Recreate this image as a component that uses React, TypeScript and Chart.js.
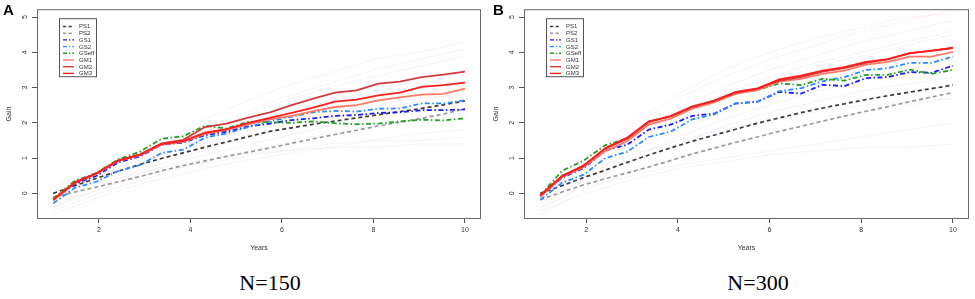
import React, { useEffect, useRef } from "react";
import { Chart, registerables } from "chart.js";

Chart.register(...registerables);

// ---------- data ----------
const years = [1, 1.474, 1.947, 2.421, 2.895, 3.368, 3.842, 4.316, 4.789, 5.263, 5.737, 6.211, 6.684, 7.158, 7.632, 8.105, 8.579, 9.053, 9.526, 10];
const faintYears = [1, 2, 3, 4, 5, 6, 7, 8, 9, 10];
const seriesNames = ["PS1", "PS2", "GS1", "GS2", "GSeff", "GM1", "GM2", "GM3"];
const xTickValues = [2, 4, 6, 8, 10];
const yTickValues = [0, 1, 2, 3, 4, 5];
const xTitle = "Years";
const yTitle = "Gain";

// Panel A (N=150)
const PS1_A = [0, 0.22, 0.43, 0.63, 0.82, 0.99, 1.15, 1.31, 1.46, 1.61, 1.76, 1.86, 1.96, 2.05, 2.14, 2.23, 2.32, 2.41, 2.51, 2.62];
const PS2_A = [-0.1, 0.04, 0.18, 0.33, 0.48, 0.64, 0.79, 0.92, 1.05, 1.17, 1.29, 1.42, 1.55, 1.67, 1.79, 1.91, 2.02, 2.13, 2.25, 2.4];
const GS1_A = [-0.18, 0.27, 0.5, 0.88, 1.05, 1.38, 1.44, 1.65, 1.75, 1.9, 1.98, 2.08, 2.13, 2.2, 2.22, 2.28, 2.3, 2.36, 2.36, 2.38];
const GS2_A = [-0.28, 0.16, 0.33, 0.64, 0.8, 1.15, 1.24, 1.58, 1.7, 1.88, 2.04, 2.18, 2.3, 2.34, 2.32, 2.4, 2.41, 2.55, 2.55, 2.64];
const GSeff_A = [-0.15, 0.36, 0.58, 0.97, 1.18, 1.55, 1.62, 1.92, 1.84, 2.03, 2.02, 2.0, 2.04, 1.99, 1.96, 1.98, 2.04, 2.09, 2.07, 2.13];
const GM1_A = [-0.2, 0.3, 0.55, 0.92, 1.08, 1.38, 1.46, 1.68, 1.8, 1.96, 2.1, 2.2, 2.33, 2.45, 2.5, 2.64, 2.72, 2.8, 2.82, 2.97];
const GM2_A = [-0.17, 0.32, 0.57, 0.94, 1.1, 1.42, 1.52, 1.88, 1.98, 2.15, 2.3, 2.5, 2.69, 2.86, 2.92, 3.11, 3.17, 3.3, 3.37, 3.45];
const GM3_A = [-0.17, 0.3, 0.57, 0.93, 1.1, 1.4, 1.48, 1.72, 1.82, 2.0, 2.14, 2.28, 2.43, 2.6, 2.66, 2.78, 2.86, 3.02, 3.07, 3.14];

// Panel B (N=300)
const PS1_B = [0, 0.22, 0.45, 0.66, 0.88, 1.09, 1.29, 1.48, 1.65, 1.82, 1.99, 2.14, 2.29, 2.42, 2.54, 2.66, 2.77, 2.87, 2.97, 3.07];
const PS2_B = [-0.18, 0.04, 0.24, 0.42, 0.58, 0.75, 0.93, 1.12, 1.28, 1.45, 1.6, 1.76, 1.9, 2.05, 2.19, 2.33, 2.46, 2.6, 2.73, 2.86];
const GS1_B = [-0.08, 0.44, 0.72, 1.22, 1.38, 1.81, 1.95, 2.2, 2.26, 2.55, 2.6, 2.88, 2.83, 3.08, 3.04, 3.27, 3.3, 3.44, 3.42, 3.62];
const GS2_B = [-0.18, 0.3, 0.53, 1.0, 1.18, 1.6, 1.75, 2.1, 2.24, 2.55, 2.6, 2.9, 2.98, 3.18, 3.3, 3.5, 3.55, 3.7, 3.7, 3.88];
const GSeff_B = [-0.06, 0.64, 0.93, 1.37, 1.55, 2.04, 2.18, 2.43, 2.63, 2.85, 2.93, 3.12, 3.07, 3.25, 3.2, 3.36, 3.36, 3.51, 3.39, 3.5];
const GM1_B = [-0.1, 0.46, 0.75, 1.2, 1.48, 1.95, 2.12, 2.4, 2.58, 2.82, 2.93, 3.17, 3.25, 3.39, 3.48, 3.65, 3.73, 3.88, 3.88, 4.01];
const GM2_B = [-0.06, 0.48, 0.8, 1.27, 1.55, 2.02, 2.2, 2.47, 2.63, 2.88, 2.98, 3.2, 3.3, 3.45, 3.55, 3.7, 3.8, 3.97, 4.05, 4.12];
const GM3_B = [-0.06, 0.5, 0.78, 1.29, 1.58, 2.04, 2.18, 2.45, 2.62, 2.86, 2.97, 3.23, 3.34, 3.48, 3.58, 3.73, 3.81, 3.98, 4.04, 4.13];

// faint replicate runs (years 1..10)
const faintA1 = [-0.3, 0.6, 1.3, 1.9, 2.5, 3.0, 3.4, 3.8, 4.0, 4.3];
const faintA2 = [-0.2, 0.5, 1.1, 1.6, 2.1, 2.6, 3.0, 3.3, 3.6, 3.9];
const faintA3 = [-0.1, 0.4, 0.9, 1.4, 1.8, 2.2, 2.6, 2.9, 3.2, 3.5];
const faintA4 = [-0.4, 0.2, 0.7, 1.1, 1.5, 1.8, 2.1, 2.4, 2.6, 2.9];
const faintA5 = [-0.5, 0.0, 0.4, 0.8, 1.1, 1.4, 1.7, 1.9, 2.1, 2.3];
const faintA6 = [-0.6, -0.1, 0.3, 0.6, 0.9, 1.1, 1.3, 1.5, 1.7, 1.8];
const faintA7 = [-0.3, 0.1, 0.5, 0.8, 1.0, 1.2, 1.4, 1.5, 1.5, 1.6];
const faintA8 = [0.2, 0.7, 1.2, 1.6, 2.0, 2.3, 2.6, 2.8, 3.0, 3.2];
const faintA9 = [-0.2, 0.3, 0.6, 0.9, 1.1, 1.2, 1.3, 1.3, 1.4, 1.4];
const faintA10 = [0.0, 0.5, 1.0, 1.3, 1.7, 2.0, 2.3, 2.5, 2.7, 2.8];
const faintA11 = [-0.1, 0.6, 1.2, 1.7, 2.2, 2.7, 3.1, 3.5, 3.8, 4.1];
const faintA12 = [-0.4, 0.1, 0.6, 1.0, 1.3, 1.6, 1.9, 2.1, 2.3, 2.5];

const faintB1 = [-0.2, 1.0, 1.9, 2.7, 3.3, 3.8, 4.2, 4.6, 4.9, 5.2];
const faintB2 = [-0.1, 0.9, 1.7, 2.4, 3.0, 3.5, 3.9, 4.3, 4.6, 4.9];
const faintB3 = [-0.3, 0.7, 1.5, 2.1, 2.7, 3.1, 3.6, 3.9, 4.2, 4.5];
const faintB4 = [-0.4, 0.5, 1.2, 1.8, 2.3, 2.8, 3.2, 3.5, 3.8, 4.1];
const faintB5 = [-0.5, 0.3, 0.9, 1.4, 1.9, 2.3, 2.6, 2.9, 3.1, 3.3];
const faintB6 = [-0.6, 0.1, 0.6, 1.0, 1.4, 1.7, 2.0, 2.3, 2.5, 2.7];
const faintB7 = [-0.4, 0.2, 0.5, 0.8, 1.0, 1.2, 1.4, 1.6, 1.8, 2.0];
const faintB8 = [0.0, 0.6, 1.1, 1.5, 1.8, 2.1, 2.3, 2.5, 2.6, 2.7];
const faintB9 = [-0.5, 0.0, 0.4, 0.7, 0.9, 1.1, 1.2, 1.3, 1.3, 1.4];
const faintB10 = [0.1, 1.1, 2.0, 2.8, 3.5, 4.0, 4.4, 4.7, 5.0, 5.1];
const faintB11 = [-0.2, 0.8, 1.6, 2.3, 2.8, 3.3, 3.7, 4.0, 4.3, 4.6];
const faintB12 = [-0.3, 0.4, 1.0, 1.6, 2.1, 2.5, 2.9, 3.2, 3.5, 3.8];

const valuesA = [PS1_A, PS2_A, GS1_A, GS2_A, GSeff_A, GM1_A, GM2_A, GM3_A];
const valuesB = [PS1_B, PS2_B, GS1_B, GS2_B, GSeff_B, GM1_B, GM2_B, GM3_B];
const faintSetA = [faintA1, faintA2, faintA3, faintA4, faintA5, faintA6, faintA7, faintA8, faintA9, faintA10, faintA11, faintA12];
const faintSetB = [faintB1, faintB2, faintB3, faintB4, faintB5, faintB6, faintB7, faintB8, faintB9, faintB10, faintB11, faintB12];

// ---------- styles ----------
const DASH = [4, 3];
const DASHDOT = [5, 2.5, 1.5, 2.5];
const lineStyles: Record<string, { color: string; dash: number[]; width: number }> = {
  PS1: { color: "#3c3c3c", dash: DASH, width: 1.7 },
  PS2: { color: "#9a9a9a", dash: DASH, width: 1.7 },
  GS1: { color: "#1a1aff", dash: DASHDOT, width: 1.8 },
  GS2: { color: "#2b8cff", dash: DASHDOT, width: 1.8 },
  GSeff: { color: "#24a024", dash: DASHDOT, width: 1.8 },
  GM1: { color: "#ff7a66", dash: [], width: 1.8 },
  GM2: { color: "#d23b3b", dash: [], width: 1.8 },
  GM3: { color: "#ff1c1c", dash: [], width: 1.8 },
};
const faintColors = ["rgba(235,130,130,0.10)", "rgba(140,150,230,0.10)", "rgba(160,160,160,0.10)"];
const FONT = "'Liberation Sans', Arial, Helvetica, sans-serif";

const decorPlugin = {
  id: "panelDecor",
  afterDatasetsDraw(chart: any, _args: any, opts: any) {
    const { ctx, chartArea } = chart;
    ctx.save();
    // box around plot
    ctx.strokeStyle = "#6a6a6a";
    ctx.lineWidth = 1;
    ctx.setLineDash([]);
    ctx.strokeRect(chartArea.left + 0.5, chartArea.top + 0.5, chartArea.right - chartArea.left - 1, chartArea.bottom - chartArea.top - 1);

    // legend
    const lx = chartArea.left + 22;
    const ly = chartArea.top + 9;
    const lw = 37;
    const lh = 58;
    ctx.fillStyle = "#ffffff";
    ctx.fillRect(lx, ly, lw, lh);
    ctx.strokeStyle = "#555555";
    ctx.strokeRect(lx + 0.5, ly + 0.5, lw, lh);
    ctx.font = `6px ${FONT}`;
    ctx.textBaseline = "middle";
    ctx.textAlign = "left";
    seriesNames.forEach((name, k) => {
      const st = lineStyles[name];
      const y = ly + 8.3 + k * 6.7;
      ctx.beginPath();
      ctx.strokeStyle = st.color;
      ctx.lineWidth = 1.4;
      ctx.setLineDash(st.dash.length ? st.dash.map((d: number) => d * 0.8) : []);
      ctx.moveTo(lx + 4, y);
      ctx.lineTo(lx + 15, y);
      ctx.stroke();
      ctx.setLineDash([]);
      ctx.fillStyle = "#333333";
      ctx.fillText(name, lx + 20, y + 0.3);
    });

    // panel letter
    ctx.fillStyle = "#000000";
    ctx.font = `bold 15px ${FONT}`;
    ctx.textBaseline = "alphabetic";
    ctx.fillText(opts.letter, opts.letterX, 15);
    ctx.restore();
  },
};

type PanelProps = { letter: string; letterX: number; caption: string; captionPad: number; values: number[][]; faint: number[][]; left: number; width: number };

function Panel({ letter, letterX, caption, captionPad, values, faint, left, width }: PanelProps) {
  const ref = useRef<HTMLCanvasElement | null>(null);

  useEffect(() => {
    if (!ref.current) return;
    const mainSets = seriesNames.map((name, k) => ({
      label: name,
      data: years.map((x, i) => ({ x, y: values[k][i] })),
      borderColor: lineStyles[name].color,
      borderDash: lineStyles[name].dash,
      borderWidth: lineStyles[name].width,
      pointRadius: 0,
      tension: 0,
      fill: false,
      order: 10 - k,
    }));
    const faintSets = faint.map((arr, j) => ({
      label: "run" + j,
      data: faintYears.map((x, i) => ({ x, y: arr[i] })),
      borderColor: faintColors[j % faintColors.length],
      borderWidth: 1,
      pointRadius: 0,
      tension: 0,
      fill: false,
      order: 100,
    }));

    const chart = new Chart(ref.current, {
      type: "line",
      data: { datasets: [...mainSets, ...faintSets] as any },
      options: {
        animation: false,
        responsive: false,
        events: [],
        layout: { padding: { top: 6, right: 6, left: 0, bottom: 0 } },
        plugins: {
          legend: { display: false },
          tooltip: { enabled: false },
          panelDecor: { letter, letterX },
        } as any,
        scales: {
          x: {
            type: "linear",
            min: 0.645,
            max: 10.35,
            afterBuildTicks: (s: any) => {
              s.ticks = xTickValues.map((v) => ({ value: v }));
            },
            afterFit: (s: any) => {
              s.height = 41;
            },
            grid: { drawOnChartArea: false, drawTicks: true, tickLength: 4, color: "#555555", tickWidth: 1 },
            border: { display: false },
            ticks: { color: "#333333", font: { size: 7, family: FONT }, padding: 3, maxRotation: 0, minRotation: 0, callback: (v: any) => String(v) },
            title: { display: true, text: xTitle, color: "#333333", font: { size: 7, family: FONT }, padding: { top: 0, bottom: 8 } },
          },
          y: {
            type: "linear",
            min: -0.726,
            max: 5.223,
            afterBuildTicks: (s: any) => {
              s.ticks = yTickValues.map((v) => ({ value: v }));
            },
            afterFit: (s: any) => {
              s.width = 37;
            },
            grid: { drawOnChartArea: false, drawTicks: true, tickLength: 5, color: "#555555", tickWidth: 1 },
            border: { display: false },
            ticks: { color: "#333333", font: { size: 7, family: FONT }, padding: 5, minRotation: 90, maxRotation: 90, crossAlign: "center", callback: (v: any) => String(v) },
            title: { display: true, text: yTitle, color: "#333333", font: { size: 7, family: FONT }, padding: { top: 5, bottom: 0 } },
          },
        },
      } as any,
      plugins: [decorPlugin as any],
    });
    return () => chart.destroy();
  }, [letter, letterX, values, faint]);

  return (
    <div style={{ position: "absolute", left, top: 0, width, height: 299 }}>
      <canvas ref={ref} width={width} height={260} style={{ width, height: 260, display: "block" }} />
      <div
        style={{
          position: "absolute",
          left: 0,
          width: "100%",
          top: 271.6,
          height: 22,
          lineHeight: "22px",
          fontSize: 22,
          fontFamily: "'Liberation Serif', 'Times New Roman', serif",
          textAlign: "center",
          color: "#000",
          paddingLeft: captionPad,
          boxSizing: "border-box",
          whiteSpace: "nowrap",
        }}
      >
        {caption}
      </div>
    </div>
  );
}

export default function App() {
  return (
    <div style={{ position: "fixed", left: 0, top: 0, width: 975, height: 299, background: "#fff", overflow: "hidden" }}>
      <Panel letter="A" letterX={3} caption="N=150" captionPad={53} values={valuesA} faint={faintSetA} left={0} width={487} />
      <Panel letter="B" letterX={6} caption="N=300" captionPad={54} values={valuesB} faint={faintSetB} left={487} width={488} />
    </div>
  );
}
